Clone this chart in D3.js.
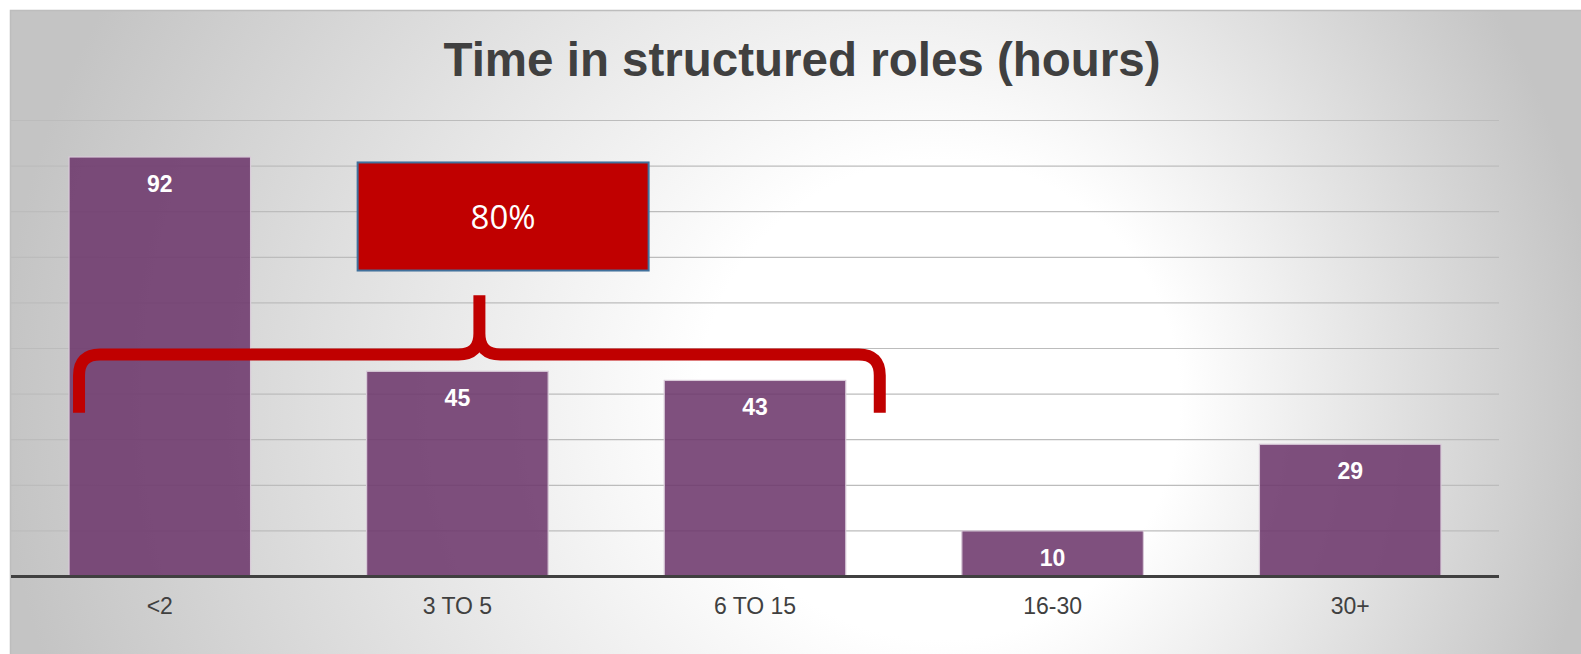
<!DOCTYPE html>
<html>
<head>
<meta charset="utf-8">
<script src="https://cdn.jsdelivr.net/npm/d3@7"></script>
<style>
  body { margin: 0; background: #fff; }
  svg { display: block; }
</style>
</head>
<body>
<div id="chart"></div>
<script>
// chart data
const categories = ["<2", "3 TO 5", "6 TO 15", "16-30", "30+"];
const hours = [92, 45, 43, 10, 29];
const gridTicks = [0, 10, 20, 30, 40, 50, 60, 70, 80, 90, 100];
const title = "Time in structured roles (hours)";
// bracket annotation over the first three categories
const bracketFrom = "<2";
const bracketTo = "6 TO 15";
const bracketLabel = "80%";

const width = 1581, height = 654;

const svg = d3.select("#chart")
  .append("svg")
  .attr("width", width)
  .attr("height", height);

// background: grey panel with a soft white glow, off-centre to the right
const defs = svg.append("defs");
const grad = defs.append("radialGradient")
  .attr("id", "bg")
  .attr("gradientUnits", "userSpaceOnUse")
  .attr("cx", 800).attr("cy", 400).attr("r", 800)
  .attr("fx", 1000).attr("fy", 400);
grad.append("stop").attr("offset", "0").attr("stop-color", "#ffffff");
grad.append("stop").attr("offset", "0.3").attr("stop-color", "#ffffff");
grad.append("stop").attr("offset", "1").attr("stop-color", "#c4c4c4");

svg.append("rect")
  .attr("x", 10).attr("y", 10)
  .attr("width", width - 10).attr("height", height - 10)
  .attr("fill", "url(#bg)");
svg.append("path")
  .attr("d", `M10.5,${height} V10.5 H${width}`)
  .attr("fill", "none")
  .attr("stroke", "#bdbdbd")
  .attr("stroke-width", 1.5);

// scales
const x = d3.scaleBand()
  .domain(categories)
  .range([11, 1499])
  .paddingInner(0.39)
  .paddingOuter(0.195);

const y = d3.scaleLinear()
  .domain([0, 100])
  .range([576.5, 120.5]);

// gridlines
svg.append("g")
  .selectAll("line")
  .data(gridTicks.slice(1))
  .join("line")
  .attr("x1", 11).attr("x2", 1499)
  .attr("y1", d => y(d)).attr("y2", d => y(d))
  .attr("stroke", "#bcbcbc")
  .attr("stroke-width", 1.2);

// bars
svg.append("g")
  .selectAll("rect")
  .data(hours)
  .join("rect")
  .attr("x", (d, i) => x(categories[i]))
  .attr("y", d => y(d))
  .attr("width", x.bandwidth())
  .attr("height", d => y(0) - y(d))
  .attr("fill", "#6d386c")
  .attr("fill-opacity", 0.88)
  .attr("stroke", "#d8cad8")
  .attr("stroke-width", 1.2);

// value labels
svg.append("g")
  .selectAll("text")
  .data(hours)
  .join("text")
  .attr("x", (d, i) => x(categories[i]) + x.bandwidth() / 2)
  .attr("y", d => y(d) + 35)
  .attr("text-anchor", "middle")
  .attr("font-family", "'Liberation Sans', Arial, sans-serif")
  .attr("font-weight", "bold")
  .attr("font-size", 23)
  .attr("fill", "#ffffff")
  .text(d => d);

// x axis
const xAxis = svg.append("g")
  .attr("transform", `translate(0,${y(0)})`)
  .call(d3.axisBottom(x).tickSize(0).tickPadding(21));
xAxis.select(".domain")
  .attr("d", "M11,0H1499")
  .attr("stroke", "#404040")
  .attr("stroke-width", 3);
xAxis.selectAll("text")
  .attr("font-family", "'Liberation Sans', Arial, sans-serif")
  .attr("font-size", 23)
  .attr("fill", "#404040");

// title
svg.append("text")
  .attr("x", 802)
  .attr("y", 76)
  .attr("text-anchor", "middle")
  .attr("font-family", "'Liberation Sans', Arial, sans-serif")
  .attr("font-weight", "bold")
  .attr("font-size", 47.5)
  .attr("fill", "#404040")
  .text(title);

// curly bracket
const bx0 = x(bracketFrom) + 10;
const bx1 = x(bracketTo) + x.bandwidth() + 34;
const bxm = (bx0 + bx1) / 2;
const byBar = y(48.7), byLeg = y(35.9), byTip = y(61.7);
const r = 21;
const brace = d3.path();
brace.moveTo(bx0, byLeg);
brace.lineTo(bx0, byBar + r);
brace.quadraticCurveTo(bx0, byBar, bx0 + r, byBar);
brace.lineTo(bxm - r, byBar);
brace.quadraticCurveTo(bxm, byBar, bxm, byBar - r);
brace.lineTo(bxm, byTip);
brace.moveTo(bxm, byTip);
brace.lineTo(bxm, byBar - r);
brace.quadraticCurveTo(bxm, byBar, bxm + r, byBar);
brace.lineTo(bx1 - r, byBar);
brace.quadraticCurveTo(bx1, byBar, bx1, byBar + r);
brace.lineTo(bx1, byLeg);
svg.append("path")
  .attr("d", brace.toString())
  .attr("fill", "none")
  .attr("stroke", "#c00000")
  .attr("stroke-width", 12);

// 80% box
const boxX = x("3 TO 5") - 9, boxW = 291;
const boxTop = y(90.8), boxBottom = y(67.1);
svg.append("rect")
  .attr("x", boxX).attr("y", boxTop)
  .attr("width", boxW).attr("height", boxBottom - boxTop)
  .attr("fill", "#c00000")
  .attr("stroke", "#41719c")
  .attr("stroke-width", 2);
svg.append("text")
  .attr("x", boxX + boxW / 2)
  .attr("y", (boxTop + boxBottom) / 2 + 13)
  .attr("text-anchor", "middle")
  .attr("font-family", "'Open Sans', 'Noto Sans', sans-serif")
  .attr("font-size", 33)
  .attr("fill", "#ffffff")
  .text(bracketLabel);
</script>
</body>
</html>
